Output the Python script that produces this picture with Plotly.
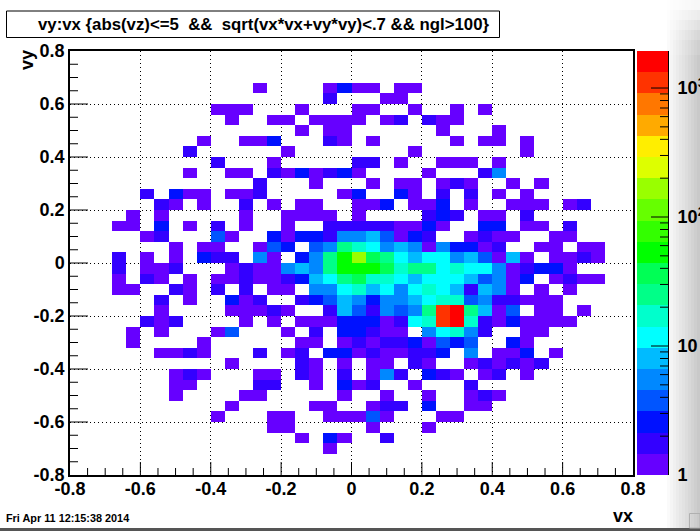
import numpy as np
import plotly.graph_objects as go

W, H = 700, 531
PX0, PX1, PY0, PY1 = 70, 633, 51, 475      # frame in page pixels
BX0, BX1 = 637, 668                        # palette strip

x_range = [-0.8, 0.8]
y_range = [-0.8, 0.8]
n_bins = 40
zmax_log = 3.287

palette = ["#6600ff", "#3300ff", "#0011ff", "#0055ff", "#0088ff", "#00bbff", "#00ffff",
           "#00ffcc", "#00ff88", "#00ff55", "#00ff00", "#33ff00", "#66ff00", "#99ff00",
           "#ddff00", "#ffee00", "#ffaa00", "#ff7700", "#ff3300", "#ff0000"]

# counts per bin: row index from the top -> {column index from the left: count}
counts_by_row = {
    3: {13:1,18:1,19:3,20:1,21:1,23:1,24:1},
    4: {18:2,22:1,23:1},
    5: {10:1,11:1,12:1,16:1,20:1,21:1,24:1,27:1,29:1},
    6: {11:1,14:1,15:1,17:1,18:1,19:1,20:1,22:1,23:2,25:2,26:1,27:1},
    7: {16:1,18:1,19:1,26:1,30:1},
    8: {9:1,12:1,13:1,14:3,18:2,19:1,21:1,27:1,29:1,30:1,32:1},
    9: {8:2,15:1,24:1,32:1},
    10: {10:2,14:1,20:2,21:2,23:1,26:1,27:1,28:1,30:1},
    11: {8:1,11:1,12:1,14:2,15:1,16:3,17:1,18:2,19:3,20:1,25:1,29:2,30:6},
    12: {13:2,17:1,21:1,23:1,24:1,26:1,27:2,28:1,31:1,33:1},
    13: {5:2,7:3,8:1,9:1,11:1,12:1,13:2,19:1,20:3,23:3,24:1,26:2,28:2,30:1,32:1},
    14: {6:2,7:1,9:1,12:2,14:1,16:1,17:1,20:1,21:1,22:3,24:1,25:1,26:3,28:1,31:1,32:1,33:1,35:1,36:2},
    15: {4:1,6:1,12:1,15:1,16:1,17:1,18:1,20:1,25:2,26:3,27:2,29:1,30:1,32:2},
    16: {3:1,4:1,6:3,8:1,10:2,12:1,15:1,18:2,19:2,20:2,21:2,22:2,23:1,24:1,25:3,26:1,29:3,30:3,32:1,33:1,35:2},
    17: {5:1,6:2,10:4,11:1,14:3,15:1,16:3,17:3,18:2,19:6,20:6,21:8,22:4,23:1,24:3,25:2,28:1,29:2,30:1,31:1,34:1,35:1},
    18: {7:1,9:1,10:1,13:1,14:4,15:3,17:4,18:6,19:25,20:17,21:12,22:6,23:8,24:6,25:1,26:6,27:3,28:3,29:1,30:2,33:1,34:1,36:1,37:1},
    19: {3:2,5:1,7:1,9:3,10:2,11:2,13:6,14:1,16:3,17:6,18:25,19:53,20:165,21:36,22:25,23:12,24:8,25:12,26:12,27:6,28:8,29:4,30:1,31:8,32:1,34:1,35:1,36:2,37:1},
    20: {3:2,5:1,6:1,7:2,11:1,12:2,13:1,14:1,15:6,16:8,17:6,18:25,19:53,20:53,21:53,22:36,23:17,24:25,25:25,26:12,27:17,28:12,29:12,30:6,31:1,32:2,33:3,34:3,35:1},
    21: {3:1,5:2,6:1,8:1,10:1,11:1,12:2,13:1,14:1,15:2,16:3,17:8,18:12,19:25,20:36,21:17,22:17,23:12,24:8,25:12,26:12,27:12,28:8,29:4,30:6,31:1,32:3,34:1,35:2,36:1,37:1},
    22: {3:1,4:1,7:2,8:1,10:2,12:2,14:1,15:1,17:6,18:6,19:12,20:17,21:8,22:12,23:6,24:12,25:17,26:12,27:8,28:2,29:8,30:6,31:1,33:1,35:1},
    23: {6:2,8:1,11:3,12:1,13:2,16:2,17:3,18:4,19:8,20:6,21:3,22:6,23:6,24:8,25:12,26:17,27:17,28:4,29:6,30:2,31:2,32:1,33:1,34:1},
    24: {6:1,11:1,12:1,13:1,14:2,15:1,18:2,19:8,20:4,21:2,22:6,23:4,24:6,25:25,26:1100,27:1600,28:25,29:8,30:1,31:4,33:1,34:1,36:1},
    25: {5:2,6:1,7:2,12:1,14:1,16:1,17:1,18:1,19:3,20:3,21:3,22:1,23:2,24:12,25:17,26:1100,27:1600,28:17,29:2,30:1,31:3,32:1,33:1,34:1,35:1},
    26: {4:1,6:1,10:1,11:4,15:1,17:2,19:3,20:3,21:2,22:1,23:1,25:6,26:12,27:17,28:6,29:2,32:1,33:1},
    27: {4:1,9:1,16:1,17:1,19:1,20:2,21:1,22:2,23:2,24:3,25:1,26:4,27:3,28:4,31:3,32:1},
    28: {6:1,7:1,8:2,9:1,13:2,15:1,16:2,18:3,19:3,20:1,21:2,22:1,23:1,24:2,25:2,26:3,28:6,30:1,31:1,32:3,34:1},
    29: {11:1,16:2,17:1,19:1,21:1,22:1,24:2,25:1,28:1,29:2,30:1,31:2,32:1,33:2},
    30: {7:1,8:2,9:1,13:1,14:1,16:2,17:1,19:2,21:1,22:6,23:2,25:3,26:2,27:1,29:1,30:2,32:1},
    31: {7:1,8:1,13:2,14:2,17:1,19:3,20:1,21:2,24:1,28:2},
    32: {7:1,12:1,13:1,19:1,22:1,25:1,28:1,29:2,30:1},
    33: {11:1,17:1,18:1,21:1,22:2,23:2,25:3,28:1,29:1},
    34: {10:1,14:1,15:1,18:1,19:1,20:1,21:4,22:1,26:1,27:1},
    35: {14:1,15:1,21:1,25:1},
    36: {16:1,18:3,19:1,22:2},
    37: {18:1},
}

x_ticks = [-0.8, -0.6, -0.4, -0.2, 0, 0.2, 0.4, 0.6, 0.8]
x_ticklabels = ["-0.8", "-0.6", "-0.4", "-0.2", "0", "0.2", "0.4", "0.6", "0.8"]
minor_ticks = [round(-0.8 + 0.05 * i, 2) for i in range(33) if i % 4]
bar_ticks = [0, 1, 2, 3]
bar_ticklabels = ["1", "10", "10<sup>2</sup>", "10<sup>3</sup>"]
bar_minor = [float(np.log10(m * 10**d)) for d in range(4) for m in range(2, 10) if m * 10**d < 2000]

title_text = ("vy:vx {abs(vz)&lt;=5\u00a0\u00a0&amp;&amp;\u00a0\u00a0sqrt(vx*vx+vy*vy)"
              "&lt;.7 &amp;&amp; ngl&gt;100}")
date_text = "Fri Apr 11 12:15:38 2014"

FONT = "Liberation Sans"
BOLD18 = dict(family=FONT, size=18, color="black", weight=700)

grid = np.full((n_bins, n_bins), np.nan)
for row, cells in counts_by_row.items():
    for col, count in cells.items():
        grid[n_bins - 1 - row, col] = np.log10(count)

colorscale = []
for k, c in enumerate(palette):
    colorscale += [[k / len(palette), c], [(k + 1) / len(palette), c]]

edges_x = np.linspace(*x_range, n_bins + 1)
edges_y = np.linspace(*y_range, n_bins + 1)
bar_edges = np.linspace(0, zmax_log, len(palette) + 1)
bar_mid = (bar_edges[:-1] + bar_edges[1:]) / 2

fig = go.Figure()
fig.add_trace(go.Heatmap(x=edges_x, y=edges_y, z=grid, colorscale=colorscale,
                         zmin=0, zmax=zmax_log, showscale=False, hoverongaps=False))
fig.add_trace(go.Heatmap(x=[0, 1], y=bar_edges, z=[[v] for v in bar_mid], colorscale=colorscale,
                         zmin=0, zmax=zmax_log, showscale=False, xaxis="x2", yaxis="y2"))

# inward tick marks as line traces on the same axes
frame_w, frame_h, bar_w = PX1 - PX0, PY1 - PY0, BX1 - BX0
x_span = x_range[1] - x_range[0]
y_span = y_range[1] - y_range[0]
tx, ty = [], []
for vals, xlen, ylen in [(x_ticks[1:-1], 13, 18), (minor_ticks, 7, 8)]:
    for v in vals:
        tx += [v, v, None]
        ty += [y_range[0], y_range[0] + xlen / frame_h * y_span, None]
        tx += [x_range[0], x_range[0] + ylen / frame_w * x_span, None]
        ty += [v, v, None]
fig.add_trace(go.Scatter(x=tx, y=ty, mode="lines", line=dict(color="black", width=1),
                         hoverinfo="skip", showlegend=False))
bx, by = [], []
for vals, blen in [(bar_ticks[1:], 17), (bar_minor, 8)]:
    for v in vals:
        bx += [1 - blen / bar_w, 1, None]
        by += [v, v, None]
fig.add_trace(go.Scatter(x=bx, y=by, mode="lines", line=dict(color="black", width=1),
                         hoverinfo="skip", showlegend=False, xaxis="x2", yaxis="y2"))

shapes = []
# title box
shapes.append(dict(type="rect", xref="paper", yref="paper", x0=6.5 / W, x1=499.5 / W,
                   y0=1 - 37.5 / H, y1=1 - 11 / H, line=dict(color="black", width=1),
                   fillcolor="white", layer="below"))
# window vignette on the right edge
for ix, px in enumerate(range(664, 700, 3)):
    g = 255 - (px - 664) / 36 * 58
    for py0, py1, fade in [(0, 10, .15), (10, 20, .35), (20, 30, .55), (30, 40, .75),
                           (40, 55, .9), (55, 528, 1)]:
        v = int(255 - (255 - g) * fade)
        shapes.append(dict(type="rect", xref="paper", yref="paper", layer="below",
                           x0=px / W, x1=(px + 3) / W, y0=1 - py1 / H, y1=1 - py0 / H,
                           line_width=0, fillcolor=f"rgb({v},{v},{v})"))
# window bottom edge and resize grip
shapes.append(dict(type="rect", xref="paper", yref="paper", x0=0, x1=1, y0=0, y1=3 / H,
                   line_width=0, fillcolor="#555555"))
shapes.append(dict(type="rect", xref="paper", yref="paper", x0=689.5 / W, x1=1,
                   y0=3 / H, y1=1 - 513.5 / H, line=dict(color="#b0b0b0", width=1)))

annotations = [
    dict(text="vy", x=27 / W, y=1 - 60 / H, xref="paper", yref="paper", textangle=-90,
         showarrow=False, font=BOLD18, xanchor="center", yanchor="middle"),
    dict(text="vx", x=623 / W, y=1 - 516 / H, xref="paper", yref="paper",
         showarrow=False, font=BOLD18, xanchor="center", yanchor="middle"),
    dict(text=date_text, x=4 / W, y=1 - 518 / H, xref="paper", yref="paper", showarrow=False,
         font=dict(family=FONT, size=10.85, color="black", weight=700),
         xanchor="left", yanchor="middle"),
]

axis_common = dict(showline=True, linecolor="black", linewidth=1.5, mirror=True, ticks="",
                   showgrid=True, gridcolor="black", griddash="1px,3px", gridwidth=1,
                   zeroline=False, tickfont=BOLD18, tickmode="array", tickvals=x_ticks,
                   ticktext=x_ticklabels, automargin=False)

fig.update_layout(
    template="none",
    width=W, height=H, margin=dict(l=0, r=0, t=0, b=0, autoexpand=False),
    paper_bgcolor="white", plot_bgcolor="rgba(0,0,0,0)",
    showlegend=False, shapes=shapes, annotations=annotations,
    title=dict(text=title_text, xref="paper", yref="paper", x=38 / W, xanchor="left",
               y=1 - 24 / H, yanchor="middle", pad=dict(t=0, b=0, l=0, r=0), automargin=False,
               font=dict(family=FONT, size=16.8, color="black", weight=700)),
    xaxis=dict(domain=[PX0 / W, PX1 / W], range=x_range, anchor="y",
               ticklabelstandoff=-3, **axis_common),
    yaxis=dict(domain=[1 - PY1 / H, 1 - PY0 / H], range=y_range, anchor="x", **axis_common),
    xaxis2=dict(domain=[BX0 / W, BX1 / W], range=[0, 1], anchor="y2", showticklabels=False,
                ticks="", showgrid=False, zeroline=False, showline=False, automargin=False),
    yaxis2=dict(domain=[1 - PY1 / H, 1 - PY0 / H], range=[0, zmax_log], anchor="x2", side="right",
                showline=True, linecolor="black", linewidth=1, ticks="", tickmode="array",
                tickvals=bar_ticks, ticktext=bar_ticklabels, tickfont=BOLD18, showgrid=False,
                zeroline=False, ticklabelstandoff=5, automargin=False),
)

fig.write_html("out.html", config=dict(displayModeBar=False),
               post_script="document.body.style.margin='0';window.dispatchEvent(new Event('resize'));")
